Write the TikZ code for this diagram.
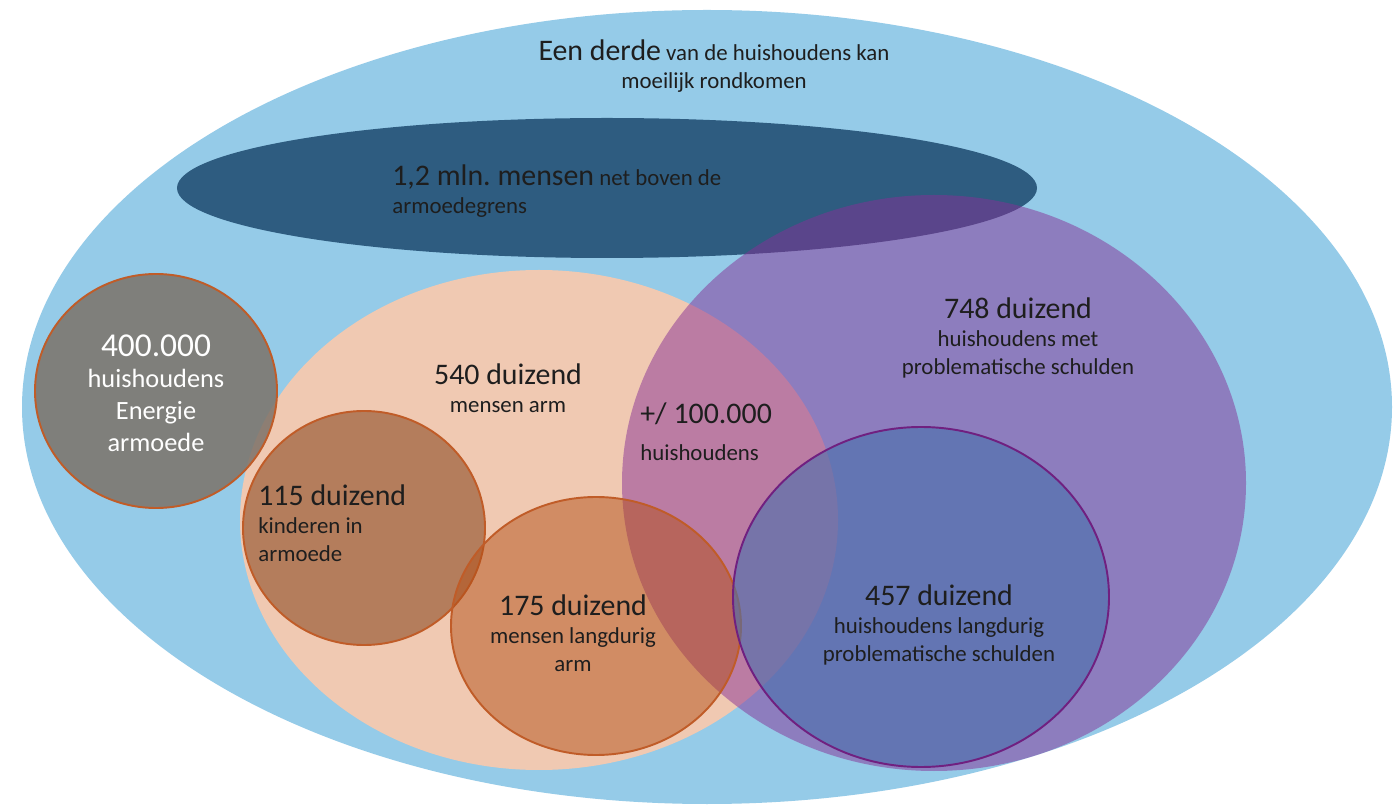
\documentclass[tikz,border=0pt]{standalone}
\usepackage{fontspec}
\setmainfont{Carlito}
\usepackage{xcolor}
\usepackage{tikz}
\definecolor{lichtblauw}{RGB}{149,203,232}
\definecolor{donkerblauw}{RGB}{46,92,128}
\definecolor{perzik}{RGB}{240,201,178}
\definecolor{paars}{RGB}{135,48,150}
\definecolor{grijs}{RGB}{124,114,104}
\definecolor{bruin}{RGB}{140,75,35}
\definecolor{oranje}{RGB}{180,80,24}
\definecolor{randbruin}{RGB}{192,92,40}
\definecolor{blauw}{RGB}{72,112,173}
\definecolor{randpaars}{RGB}{112,32,128}
\definecolor{tekstkleur}{RGB}{30,30,30}
\newcommand{\groot}{\fontsize{17}{20}\selectfont}
\frenchspacing

\begin{document}
\begin{tikzpicture}[x=0.02cm, y=-0.02cm, line cap=round, line join=round,
  tekst/.style={align=center, text=tekstkleur, inner sep=0pt,
    font=\fontsize{13}{16}\selectfont},
  rand/.style={draw=randbruin, line width=1.1pt}]
  \fill[white] (0,0) rectangle (1400,810);
  \fill[lichtblauw] (707,407) ellipse (685 and 397);
  \fill[donkerblauw] (607,188) ellipse (430 and 70);
  \fill[perzik] (539,520) ellipse (299 and 250);
  \fill[paars, fill opacity=0.5] (934,483) ellipse (312 and 288);
  \draw[rand, fill=grijs, fill opacity=0.85] (156,391) ellipse (121 and 117);
  \draw[rand, fill=bruin, fill opacity=0.6] (364,528) ellipse (121 and 117);
  \draw[rand, fill=oranje, fill opacity=0.5] (596,626) ellipse (145 and 129);
  \draw[draw=randpaars, line width=1.1pt, fill=blauw, fill opacity=0.6]
    (921,597) ellipse (188 and 170);
  % teksten
  \node[tekst] (derde) at (714,66) {{\groot Een derde} van de huishoudens kan\\moeilijk rondkomen};
  \node[tekst, align=left, anchor=west] (boven) at (392,191) {{\groot 1,2 mln. mensen} net boven de\\armoedegrens};
  \node[tekst] (arm) at (508,388) {{\groot 540 duizend}\\mensen arm};
  \node[tekst, align=left, anchor=west] (overlap) at (640,432) {{\groot +/ 100.000}\\[5pt]huishoudens};
  \node[tekst] (schulden) at (1018,338) {{\groot 748 duizend}\\huishoudens met\\problematische schulden};
  \node[tekst] (langschuld) at (939,625) {{\groot 457 duizend}\\huishoudens langdurig\\problematische schulden};
  \node[tekst, text=white, font=\fontsize{15}{18}\selectfont] (energie) at (156,393)
    {{\fontsize{19}{22}\selectfont 400.000}\\huishoudens\\Energie\\armoede};
  \node[tekst, align=left, anchor=west] (kinderen) at (258,523) {{\groot 115 duizend}\\kinderen in\\armoede};
  \node[tekst] (langarm) at (573,633) {{\groot 175 duizend}\\mensen langdurig\\arm};
\end{tikzpicture}
\end{document}
